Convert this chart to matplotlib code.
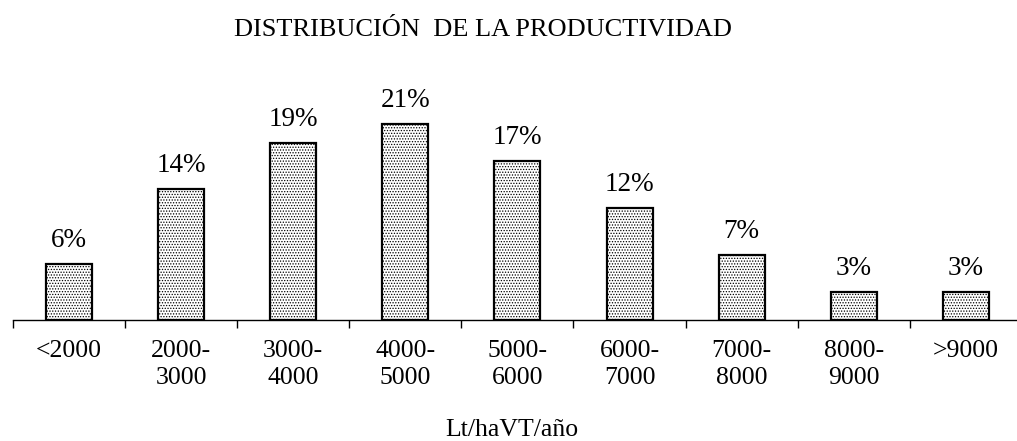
import numpy as np
import matplotlib.pyplot as plt

plt.rcParams['font.family'] = ['Liberation Serif', 'DejaVu Serif']
plt.rcParams['hatch.linewidth'] = 0.6

categories = ['<2000', '2000-\n3000', '3000-\n4000', '4000-\n5000', '5000-\n6000',
              '6000-\n7000', '7000-\n8000', '8000-\n9000', '>9000']
values = [6, 14, 19, 21, 17, 12, 7, 3, 3]

fig = plt.figure(figsize=(10.17, 4.41), dpi=100)
# axes runs slightly past the right edge, like the original
ax = fig.add_axes([0.0128, 0.274, 0.992, 0.593])

x = np.arange(len(categories))
ax.bar(x, values, width=0.41, color='white', edgecolor='black', linewidth=1.6,
       hatch='......')

for xi, v in zip(x, values):
    ax.annotate(f'{v}%', (xi, v), xytext=(0, 17), textcoords='offset points',
                ha='center', va='center', fontsize=19.5)

ax.set_xlim(-0.5, len(categories) - 0.5)
ax.set_ylim(0, 28)
ax.set_yticks([])
for s in ['top', 'right', 'left']:
    ax.spines[s].set_visible(False)
ax.spines['bottom'].set_linewidth(1.0)

ax.set_xticks(x)
ax.set_xticklabels(categories, fontsize=18.5, linespacing=1.32)
ax.tick_params(axis='x', length=0, pad=14)
ax.set_xticks(np.arange(len(categories) + 1) - 0.5, minor=True)
ax.tick_params(axis='x', which='minor', length=6, width=1.0, direction='out')

fig.text(0.503, 0.025, 'Lt/haVT/año', ha='center', va='center', fontsize=18.5)
fig.text(0.475, 0.932, 'DISTRIBUCIÓN  DE LA PRODUCTIVIDAD', ha='center', va='center', fontsize=19)

fig.savefig('out.png', dpi=100)
